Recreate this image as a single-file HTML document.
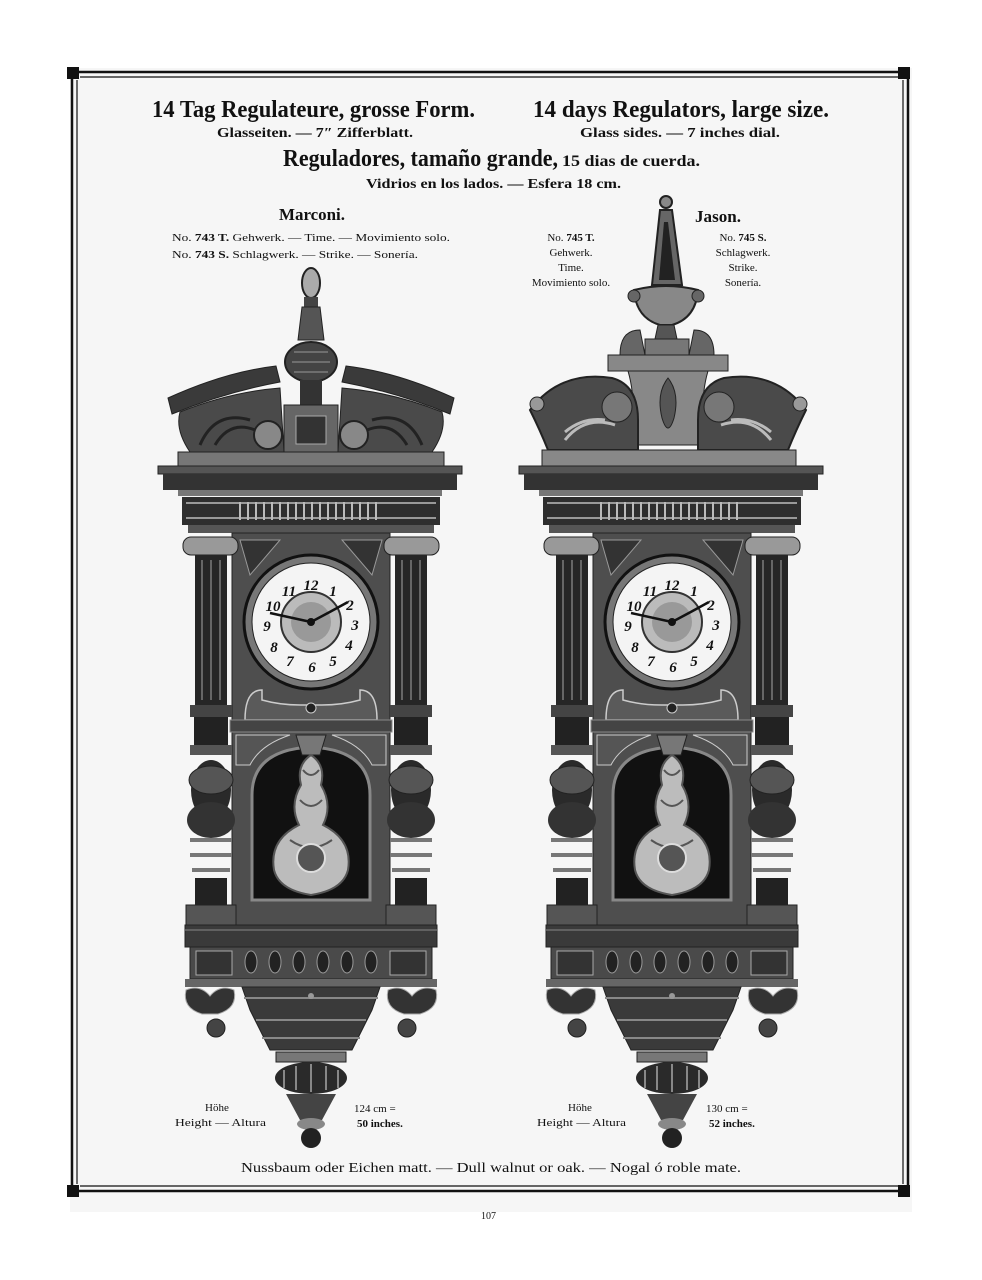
<!DOCTYPE html>
<html><head><meta charset="utf-8"><style>
html,body{margin:0;padding:0;background:#fff}
svg{display:block}
text{font-family:"Liberation Serif",serif;fill:#111}
.h{font-weight:bold;font-size:24px}
.s{font-size:14px}
.m{font-size:11px}
.d{font-family:"Liberation Serif",serif;font-size:15px;font-weight:bold;fill:#111;font-style:italic}
</style></head><body>
<svg width="982" height="1280" viewBox="0 0 982 1280" xmlns="http://www.w3.org/2000/svg">
<rect width="982" height="1280" fill="#fff"/>
<rect x="70" y="68" width="842" height="1144" fill="#f6f6f6"/>
<!-- frame -->
<g stroke="#111" fill="none">
<line x1="76" y1="72" x2="904" y2="72" stroke-width="2.5"/>
<line x1="80" y1="77" x2="900" y2="77" stroke-width="1.2"/>
<line x1="76" y1="1191" x2="904" y2="1191" stroke-width="2.5"/>
<line x1="80" y1="1186" x2="900" y2="1186" stroke-width="1.2"/>
<line x1="72" y1="76" x2="72" y2="1188" stroke-width="2.5"/>
<line x1="77" y1="80" x2="77" y2="1184" stroke-width="1.2"/>
<line x1="908" y1="76" x2="908" y2="1188" stroke-width="2.5"/>
<line x1="903" y1="80" x2="903" y2="1184" stroke-width="1.2"/>
</g>
<g fill="#111"><rect x="67" y="67" width="12" height="12"/><rect x="898" y="67" width="12" height="12"/><rect x="67" y="1185" width="12" height="12"/><rect x="898" y="1185" width="12" height="12"/></g>

<!-- headings -->
<text class="h" x="152" y="117" textLength="323" lengthAdjust="spacingAndGlyphs">14 Tag Regulateure, grosse Form.</text>
<text class="h" x="533" y="117" textLength="296" lengthAdjust="spacingAndGlyphs">14 days Regulators, large size.</text>
<text class="s" x="217" y="137" textLength="196" lengthAdjust="spacingAndGlyphs" font-weight="bold">Glasseiten. — 7″ Zifferblatt.</text>
<text class="s" x="580" y="137" textLength="200" lengthAdjust="spacingAndGlyphs" font-weight="bold">Glass sides. — 7 inches dial.</text>
<text class="h" x="283" y="166" textLength="275" lengthAdjust="spacingAndGlyphs">Reguladores, tamaño grande,</text>
<text x="562" y="166" font-size="16" font-weight="bold" textLength="138" lengthAdjust="spacingAndGlyphs">15 dias de cuerda.</text>
<text class="s" x="366" y="188" textLength="255" lengthAdjust="spacingAndGlyphs" font-weight="bold">Vidrios en los lados. — Esfera 18 cm.</text>
<text x="279" y="220" font-size="17" font-weight="bold" textLength="66" lengthAdjust="spacingAndGlyphs">Marconi.</text>
<text class="m" x="172" y="241" textLength="278" lengthAdjust="spacingAndGlyphs">No. <tspan font-weight="bold">743 T.</tspan>  Gehwerk. — Time. — Movimiento solo.</text>
<text class="m" x="172" y="258" textLength="246" lengthAdjust="spacingAndGlyphs">No. <tspan font-weight="bold">743 S.</tspan>  Schlagwerk. — Strike. — Sonería.</text>
<text x="695" y="222" font-size="17" font-weight="bold" textLength="46" lengthAdjust="spacingAndGlyphs">Jason.</text>
<g class="m" text-anchor="middle" font-size="11">
<text x="571" y="241">No. <tspan font-weight="bold">745 T.</tspan></text>
<text x="571" y="256">Gehwerk.</text><text x="571" y="271">Time.</text><text x="571" y="286">Movimiento solo.</text>
<text x="743" y="241">No. <tspan font-weight="bold">745 S.</tspan></text>
<text x="743" y="256">Schlagwerk.</text><text x="743" y="271">Strike.</text><text x="743" y="286">Sonería.</text>
</g>

<!-- Marconi crest -->
<g>
<ellipse cx="311" cy="283" rx="9" ry="15" fill="#aaa" stroke="#222" stroke-width="2"/>
<rect x="304" y="297" width="14" height="10" fill="#444"/>
<path d="M302,307 L320,307 L324,340 L298,340Z" fill="#555" stroke="#222"/>
<ellipse cx="311" cy="362" rx="26" ry="20" fill="#444" stroke="#222" stroke-width="2"/>
<path d="M292,362 h38 M294,352 h34 M294,372 h34" stroke="#999"/>
<rect x="300" y="380" width="22" height="25" fill="#333"/>
<path d="M168,398 Q225,372 276,366 L280,382 Q226,392 172,414Z" fill="#3a3a3a" stroke="#222"/>
<path d="M454,398 Q397,372 346,366 L342,382 Q396,392 450,414Z" fill="#3a3a3a" stroke="#222"/>
<path d="M180,412 Q230,392 280,388 L284,452 L190,452 Q175,430 180,412Z" fill="#4a4a4a" stroke="#222"/>
<path d="M442,412 Q392,392 342,388 L338,452 L432,452 Q447,430 442,412Z" fill="#4a4a4a" stroke="#222"/>
<circle cx="268" cy="435" r="14" fill="#888" stroke="#222" stroke-width="2"/>
<circle cx="354" cy="435" r="14" fill="#888" stroke="#222" stroke-width="2"/>
<path d="M200,445 Q215,410 250,420 M215,445 Q230,420 255,430" stroke="#222" stroke-width="3" fill="none"/>
<path d="M422,445 Q407,410 372,420 M407,445 Q392,420 367,430" stroke="#222" stroke-width="3" fill="none"/>
<rect x="284" y="405" width="54" height="48" fill="#666" stroke="#222"/>
<rect x="296" y="416" width="30" height="28" fill="#333" stroke="#aaa"/>
<rect x="178" y="452" width="266" height="14" fill="#777" stroke="#222"/>
</g>

<!-- Jason crest -->
<g>
<circle cx="666" cy="202" r="6" fill="#888" stroke="#222" stroke-width="2"/>
<path d="M660,210 L672,210 L682,285 L652,285Z" fill="#666" stroke="#222" stroke-width="2"/>
<path d="M664,222 L668,222 L675,280 L659,280Z" fill="#222"/>
<path d="M634,290 Q666,282 698,290 Q696,318 672,325 L660,325 Q636,318 634,290Z" fill="#888" stroke="#222" stroke-width="2"/>
<circle cx="634" cy="296" r="6" fill="#666" stroke="#222"/><circle cx="698" cy="296" r="6" fill="#666" stroke="#222"/>
<path d="M658,325 h16 l3,14 h-22z" fill="#555" stroke="#222"/>
<path d="M620,355 Q620,330 640,330 L645,355Z" fill="#666" stroke="#222"/>
<path d="M714,355 Q714,330 694,330 L689,355Z" fill="#666" stroke="#222"/>
<rect x="645" y="339" width="44" height="16" fill="#777" stroke="#222"/>
<rect x="608" y="355" width="120" height="16" fill="#888" stroke="#222"/>
<path d="M628,371 L708,371 Q698,405 708,445 L628,445 Q638,405 628,371Z" fill="#888" stroke="#222"/>
<path d="M668,378 q-12,15 -6,40 q6,20 12,0 q6,-25 -6,-40z" fill="#555" stroke="#222"/>
<path d="M530,410 Q560,370 612,378 Q638,385 638,420 L638,450 L548,450 Q540,430 530,410Z" fill="#4a4a4a" stroke="#222" stroke-width="2"/>
<path d="M806,410 Q776,370 724,378 Q698,385 698,420 L698,450 L788,450 Q796,430 806,410Z" fill="#4a4a4a" stroke="#222" stroke-width="2"/>
<circle cx="537" cy="404" r="7" fill="#999" stroke="#222"/><circle cx="800" cy="404" r="7" fill="#999" stroke="#222"/>
<circle cx="617" cy="407" r="15" fill="#777" stroke="#222"/><circle cx="719" cy="407" r="15" fill="#777" stroke="#222"/>
<path d="M565,440 q20,-25 50,-15 M565,432 q18,-15 40,-12" stroke="#bbb" stroke-width="3" fill="none"/>
<path d="M771,440 q-20,-25 -50,-15 M771,432 q-18,-15 -40,-12" stroke="#bbb" stroke-width="3" fill="none"/>
<rect x="542" y="450" width="254" height="18" fill="#888" stroke="#222"/>
</g>

<!-- clock bodies -->
<g id="b1">
<rect x="158" y="466" width="304" height="8" fill="#555" stroke="#222"/>
<rect x="163" y="474" width="294" height="16" fill="#333"/>
<rect x="178" y="490" width="264" height="6" fill="#777"/>
<rect x="182" y="497" width="258" height="28" fill="#2e2e2e"/>
<path d="M186,503 h250 M186,518 h250" stroke="#999" stroke-width="2"/>
<g stroke="#bbb" stroke-width="2"><path d="M240,502v18 M248,502v18 M256,502v18 M264,502v18 M272,502v18 M280,502v18 M288,502v18 M296,502v18 M304,502v18 M312,502v18 M320,502v18 M328,502v18 M336,502v18 M344,502v18 M352,502v18 M360,502v18 M368,502v18 M376,502v18"/></g>
<rect x="188" y="525" width="246" height="8" fill="#555"/>
<rect x="232" y="533" width="158" height="392" fill="#4e4e4e" stroke="#222"/>
<path d="M240,540 L280,540 L250,575Z M382,540 L342,540 L372,575Z" fill="#333" stroke="#999"/>
<!-- columns -->
<g>
<rect x="183" y="537" width="55" height="18" rx="8" fill="#999" stroke="#222"/>
<rect x="195" y="555" width="32" height="150" fill="#262626"/>
<path d="M202,560v140 M211,560v140 M220,560v140" stroke="#666" stroke-width="2"/>
<rect x="190" y="705" width="42" height="12" fill="#444"/>
<rect x="194" y="717" width="34" height="28" fill="#222"/>
<rect x="190" y="745" width="42" height="10" fill="#555"/>
<ellipse cx="211" cy="790" rx="20" ry="30" fill="#2a2a2a"/>
<ellipse cx="211" cy="780" rx="22" ry="14" fill="#555" stroke="#222"/>
<ellipse cx="211" cy="820" rx="24" ry="18" fill="#333"/>
<path d="M190,840 h42 M190,855 h42 M192,870 h38" stroke="#777" stroke-width="4"/>
<rect x="195" y="878" width="32" height="30" fill="#222"/>
<rect x="186" y="905" width="50" height="20" fill="#555" stroke="#222"/>
</g>
<g>
<rect x="384" y="537" width="55" height="18" rx="8" fill="#999" stroke="#222"/>
<rect x="395" y="555" width="32" height="150" fill="#262626"/>
<path d="M402,560v140 M411,560v140 M420,560v140" stroke="#666" stroke-width="2"/>
<rect x="390" y="705" width="42" height="12" fill="#444"/>
<rect x="394" y="717" width="34" height="28" fill="#222"/>
<rect x="390" y="745" width="42" height="10" fill="#555"/>
<ellipse cx="411" cy="790" rx="20" ry="30" fill="#2a2a2a"/>
<ellipse cx="411" cy="780" rx="22" ry="14" fill="#555" stroke="#222"/>
<ellipse cx="411" cy="820" rx="24" ry="18" fill="#333"/>
<path d="M390,840 h42 M390,855 h42 M392,870 h38" stroke="#777" stroke-width="4"/>
<rect x="395" y="878" width="32" height="30" fill="#222"/>
<rect x="386" y="905" width="50" height="20" fill="#555" stroke="#222"/>
</g>
<!-- dial -->
<circle cx="311" cy="622" r="67" fill="#777" stroke="#111" stroke-width="3"/>
<circle cx="311" cy="622" r="59" fill="#f4f4f4" stroke="#222"/>
<circle cx="311" cy="622" r="30" fill="#bbb" stroke="#333" stroke-width="2"/>
<circle cx="311" cy="622" r="20" fill="#999"/>
<g text-anchor="middle" class="d">
<text x="311" y="590">12</text><text x="333" y="596">1</text><text x="350" y="610">2</text><text x="355" y="630">3</text><text x="349" y="650">4</text><text x="333" y="666">5</text><text x="312" y="672">6</text><text x="290" y="666">7</text><text x="274" y="652">8</text><text x="267" y="631">9</text><text x="273" y="611">10</text><text x="289" y="596">11</text>
</g>
<path d="M311,622 L270,613 M311,622 Q330,612 348,602" stroke="#111" stroke-width="2.5" fill="none"/>
<circle cx="311" cy="622" r="4" fill="#111"/>
<path d="M245,720 Q245,690 262,690 L262,700 Q280,705 300,705 L322,705 Q342,705 360,700 L360,690 Q377,690 377,720Z" fill="#5a5a5a" stroke="#ccc" stroke-width="1.5"/>
<circle cx="311" cy="708" r="5" fill="#222" stroke="#ccc"/>
<rect x="230" y="720" width="162" height="12" fill="#444" stroke="#888"/>
<path d="M236,735 L290,735 Q260,745 250,765 L236,765Z M386,735 L332,735 Q362,745 372,765 L386,765Z" fill="#555" stroke="#ccc"/>
<path d="M252,900 V795 Q252,750 311,747 Q370,750 370,795 V900Z" fill="#111" stroke="#888" stroke-width="3"/>
<path d="M296,735 h30 l-6,20 h-18z" fill="#777" stroke="#222"/>
<!-- pendulum -->
<path d="M311,755 q-15,10 -10,30 q-12,20 -2,40 q-30,15 -25,45 q5,20 37,25 q32,-5 37,-25 q5,-30 -25,-45 q10,-20 -2,-40 q5,-20 -10,-30z" fill="#bcbcbc" stroke="#555" stroke-width="2"/>
<path d="M303,770 q8,10 16,0 M300,800 q11,12 22,0 M290,840 q21,15 42,0" stroke="#555" stroke-width="2" fill="none"/>
<circle cx="311" cy="858" r="14" fill="#555" stroke="#ddd" stroke-width="2"/>
<!-- base -->
<rect x="185" y="925" width="252" height="22" fill="#3a3a3a" stroke="#222"/>
<path d="M185,930 h252" stroke="#888"/>
<rect x="190" y="947" width="242" height="32" fill="#4a4a4a" stroke="#222"/>
<rect x="196" y="951" width="36" height="24" fill="#333" stroke="#aaa"/>
<rect x="390" y="951" width="36" height="24" fill="#333" stroke="#aaa"/>
<g fill="#222" stroke="#999" stroke-width="1">
<ellipse cx="251" cy="962" rx="6" ry="11"/><ellipse cx="275" cy="962" rx="6" ry="11"/><ellipse cx="299" cy="962" rx="6" ry="11"/><ellipse cx="323" cy="962" rx="6" ry="11"/><ellipse cx="347" cy="962" rx="6" ry="11"/><ellipse cx="371" cy="962" rx="6" ry="11"/>
</g>
<rect x="185" y="979" width="252" height="8" fill="#666"/>
<path d="M186,990 q14,-6 24,6 q10,-12 24,-6 q4,18 -16,24 h-16 q-20,-6 -16,-24z" fill="#333" stroke="#aaa"/>
<path d="M388,990 q14,-6 24,6 q10,-12 24,-6 q4,18 -16,24 h-16 q-20,-6 -16,-24z" fill="#333" stroke="#aaa"/>
<circle cx="216" cy="1028" r="9" fill="#444" stroke="#222"/><circle cx="407" cy="1028" r="9" fill="#444" stroke="#222"/>
<path d="M242,987 L380,987 L372,1010 L352,1050 L270,1050 L250,1010Z" fill="#3a3a3a" stroke="#222"/>
<path d="M244,998 h134 M256,1020 h110 M262,1038 h98" stroke="#888" stroke-width="2"/>
<circle cx="311" cy="996" r="3" fill="#999"/>
<rect x="276" y="1052" width="70" height="10" fill="#777" stroke="#222"/>
<ellipse cx="311" cy="1078" rx="36" ry="16" fill="#2a2a2a"/>
<path d="M284,1070v18 M296,1066v24 M311,1064v28 M326,1066v24 M338,1070v18" stroke="#888" stroke-width="2"/>
<path d="M286,1094 L336,1094 L322,1120 L300,1120Z" fill="#444"/>
<ellipse cx="311" cy="1124" rx="14" ry="6" fill="#888"/>
<circle cx="311" cy="1138" r="10" fill="#222"/>
</g>
</svg>
<div style="position:absolute;left:0;top:0">
<svg width="982" height="1280" xmlns="http://www.w3.org/2000/svg" style="position:absolute;left:0;top:0">
<use href="#b1" transform="translate(361,0)"/>
<g font-family="Liberation Serif, serif" fill="#111" font-size="11">
<text x="205" y="1111">Höhe</text>
<text x="175" y="1126" textLength="91" lengthAdjust="spacingAndGlyphs">Height — Altura</text>
<text x="354" y="1112">124 cm =</text>
<text x="357" y="1127" font-weight="bold">50 inches.</text>
<text x="568" y="1111">Höhe</text>
<text x="537" y="1126" textLength="89" lengthAdjust="spacingAndGlyphs">Height — Altura</text>
<text x="706" y="1112">130 cm =</text>
<text x="709" y="1127" font-weight="bold">52 inches.</text>
<text x="241" y="1172" font-size="14" textLength="500" lengthAdjust="spacingAndGlyphs">Nussbaum oder Eichen matt. — Dull walnut or oak. — Nogal ó roble mate.</text>
<text x="481" y="1219" font-size="10">107</text>
</g>
</svg>
</div>
</body></html>
